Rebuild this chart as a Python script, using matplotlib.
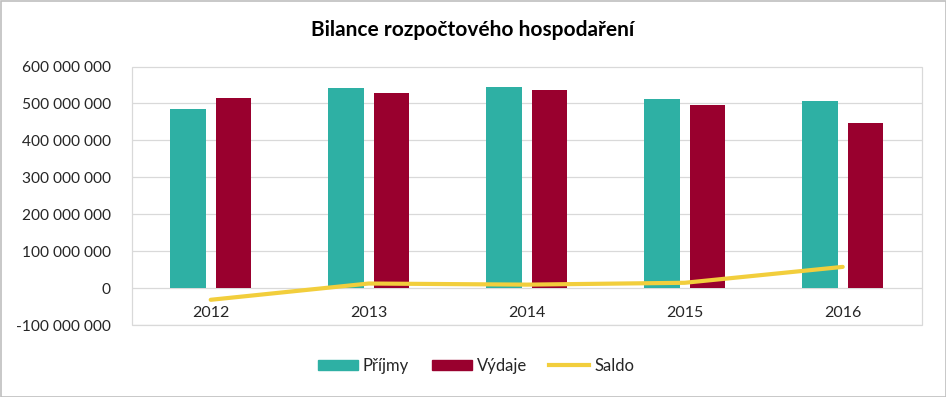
import matplotlib
matplotlib.use("Agg")
import matplotlib.pyplot as plt
import numpy as np
from matplotlib.ticker import FuncFormatter, MultipleLocator
from matplotlib.patches import Rectangle
from matplotlib.lines import Line2D

years = ["2012", "2013", "2014", "2015", "2016"]
prijmy = [485e6, 541e6, 544e6, 512e6, 506e6]
vydaje = [514e6, 528e6, 536e6, 495e6, 447e6]
saldo = [-31e6, 13e6, 10e6, 15e6, 58e6]

TEAL = "#2EB0A4"
RED = "#99002E"
YEL = "#F2CE3C"
GRID = "#D9D9D9"
TXT = "#262626"

plt.rcParams['font.family'] = ['Lato', 'DejaVu Sans']

fig = plt.figure(figsize=(9.46, 3.97), dpi=100)
ax = fig.add_axes([131.7/946, 1-325.3/397, (921.7-131.7)/946, (325.3-66.5)/397])

x = np.arange(len(years))
w = 0.225
off = 0.143
ax.bar(x - off, prijmy, width=w, color=TEAL, zorder=2)
ax.bar(x + off, vydaje, width=w, color=RED, zorder=2)
ax.plot(x, saldo, color=YEL, lw=3, solid_capstyle='round', zorder=3)

ax.set_xlim(-0.5, 4.5)
ax.set_ylim(-100e6, 600e6)
ax.yaxis.set_major_locator(MultipleLocator(100e6))
ax.yaxis.set_major_formatter(FuncFormatter(lambda v, p: f"{int(round(v)):,}".replace(",", " ")))
ax.set_xticks(x)
ax.set_xticklabels(years)

ax.grid(axis='y', color=GRID, lw=0.9, zorder=0)
ax.set_axisbelow(True)
for s in ['left', 'right', 'top']:
    ax.spines[s].set_visible(False)
ax.spines['bottom'].set_position(('data', 0))
ax.spines['bottom'].set_visible(False)
ax.add_patch(Rectangle((0, 0), 1, 1, transform=ax.transAxes, fill=False,
                       edgecolor=GRID, lw=0.9, clip_on=False, zorder=1))

ax.tick_params(axis='y', length=0, pad=15, labelsize=11.2, labelcolor=TXT)
ax.tick_params(axis='x', length=0, pad=12.5, labelsize=11.5, labelcolor=TXT)

fig.text(473/946, 1-30/397, "Bilance rozpočtového hospodaření", ha='center', va='center',
         fontsize=15, fontweight='bold', color='black')

handles = [Rectangle((0, 0), 1, 1, color=TEAL), Rectangle((0, 0), 1, 1, color=RED),
           Line2D([0], [0], color=YEL, lw=3)]
fig.legend(handles, ["Příjmy", "Výdaje", "Saldo"], loc='center',
           bbox_to_anchor=(476/946, 1-366/397), ncol=3, frameon=False,
           fontsize=12, handlelength=2.4, handleheight=0.6, handletextpad=0.3,
           columnspacing=1.35, labelcolor=TXT)

fig.add_artist(Rectangle((0.5/946, 0.5/397), 1-1/946, 1-1/397, transform=fig.transFigure,
                         fill=False, edgecolor='#BFBFBF', lw=1.2))

fig.savefig("out.png", dpi=100)
